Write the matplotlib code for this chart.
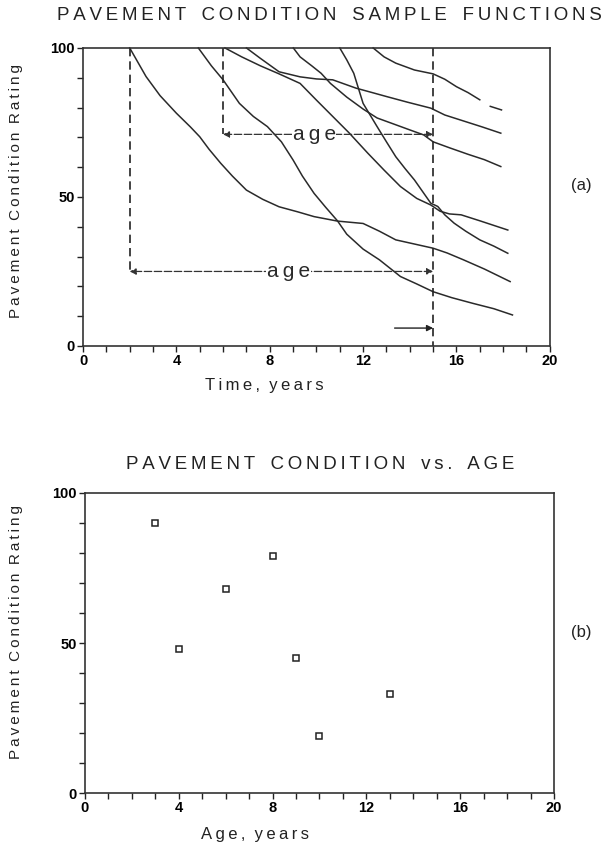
import matplotlib
matplotlib.use("Agg")
import matplotlib.pyplot as plt
import numpy as np
from matplotlib.ticker import MultipleLocator

plt.rcParams['font.family'] = ['Liberation Sans', 'DejaVu Sans']

# --- (a) sample functions (time in years, rating) ---
c2_x = [2.0, 2.7, 3.3, 4.0, 4.6, 5.0, 5.4, 5.9, 6.4, 7.0, 7.7, 8.4, 9.2, 9.9, 10.9, 12.0, 12.7, 13.4, 14.2, 15.0, 15.6, 16.3, 17.2, 18.3]
c2_y = [100, 90.4, 84, 78.1, 73.5, 70.2, 66, 61.3, 57, 52.3, 49.2, 46.7, 45, 43.4, 41.9, 41.1, 38.5, 35.6, 34.2, 32.8, 31.2, 28.9, 25.8, 21.6]

c5_x = [4.94, 5.5, 6.0, 6.7, 7.3, 7.9, 8.5, 9.0, 9.4, 9.9, 10.4, 10.9, 11.3, 12.0, 12.7, 13.6, 14.3, 15.0, 15.8, 16.7, 17.6, 18.4]
c5_y = [100, 94, 89.3, 81.4, 77, 73.6, 68.5, 62.4, 57, 51.2, 46.5, 42, 37.5, 32.5, 28.9, 23.3, 20.8, 18.2, 16.2, 14.3, 12.5, 10.4]

c6_x = [6.08, 6.8, 7.6, 8.4, 9.3, 10.0, 10.7, 11.4, 12.2, 12.9, 13.6, 14.3, 14.9, 15.3, 15.7, 16.2, 17.0, 18.2]
c6_y = [100, 97, 94, 91.3, 88.1, 82.5, 77, 71.5, 64.7, 59, 53.5, 49.5, 47.3, 45.2, 44.3, 44.0, 42.0, 38.9]

c7_x = [7.0, 7.6, 8.4, 9.3, 10.0, 10.7, 11.7, 12.4, 13.0, 13.9, 14.9, 15.5, 16.3, 17.1, 17.9]
c7_y = [100, 96.5, 92.0, 90.3, 89.6, 89.3, 86.5, 85.0, 83.7, 81.8, 79.8, 77.5, 75.5, 73.5, 71.4]

c9_x = [9.01, 9.3, 9.8, 10.2, 10.6, 11.3, 12.0, 12.6, 13.3, 14.0, 14.6, 15.0, 15.7, 16.5, 17.2, 17.9]
c9_y = [100, 97, 94, 91.5, 88.1, 83.5, 79.5, 76.5, 74.5, 72.5, 70.8, 68.5, 66.5, 64.3, 62.5, 60.2]

c11_x = [11.0, 11.3, 11.6, 12.0, 12.6, 13.0, 13.4, 13.8, 14.2, 14.9, 15.2, 15.5, 15.9, 16.4, 17.0, 17.6, 18.2]
c11_y = [100, 96, 91.5, 81.4, 73.6, 68.5, 63.5, 59.5, 55.7, 47.9, 46.8, 44.0, 41.2, 38.5, 35.6, 33.5, 31.1]

c12_x = [12.43, 12.9, 13.4, 14.2, 15.0, 15.5, 16.0, 16.5, 17.0, 17.2, 17.45, 17.93]
c12_y = [100, 97, 94.9, 92.6, 91.3, 89.5, 87.0, 85.0, 82.6, np.nan, 80.4, 79.2]

curves = [(c2_x, c2_y), (c5_x, c5_y), (c6_x, c6_y), (c7_x, c7_y),
          (c9_x, c9_y), (c11_x, c11_y), (c12_x, c12_y)]

start_times = [2, 6, 15]
age_levels = [25, 71]

# --- (b) condition vs age at t = 15 ---
ages = [3, 4, 6, 8, 9, 10, 13]
ratings = [90, 48, 68, 79, 45, 19, 33]


def spaced(s, gap='\u2009'):
    return gap.join(s)


def style_axes(ax):
    ax.set_xlim(0, 20)
    ax.set_ylim(0, 100)
    ax.xaxis.set_major_locator(MultipleLocator(4))
    ax.xaxis.set_minor_locator(MultipleLocator(1))
    ax.yaxis.set_major_locator(MultipleLocator(50))
    ax.yaxis.set_minor_locator(MultipleLocator(10))
    ax.tick_params(which='both', direction='out', length=4, width=1.0,
                   color='#222222', top=False, right=False)
    ax.tick_params(which='major', labelsize=10.5, pad=2)
    for lab in ax.get_xticklabels() + ax.get_yticklabels():
        lab.set_fontweight('bold')
    for sp in ax.spines.values():
        sp.set_linewidth(1.2)
        sp.set_color('#333333')


fig = plt.figure(figsize=(6.15, 8.5), dpi=100)

ax1 = fig.add_axes([0.135, 0.593, 0.759, 0.3506])
for cx, cy in curves:
    ax1.plot(cx, cy, color='#2a2a2a', lw=1.1, clip_on=False)

# dashed start / observation lines
ax1.plot([start_times[0]] * 2, [100, age_levels[0]], color='#222222', lw=1.2, ls=(0, (5, 3)))
ax1.plot([start_times[1]] * 2, [100, age_levels[1]], color='#222222', lw=1.2, ls=(0, (5, 3)))
ax1.plot([start_times[2]] * 2, [100, 0], color='#222222', lw=1.2, ls=(0, (5, 3)))

# age arrows
for t0, lev, tx in [(start_times[0], age_levels[0], 8.8), (start_times[1], age_levels[1], 9.9)]:
    ax1.annotate('', xy=(t0, lev), xytext=(start_times[2], lev),
                 arrowprops=dict(arrowstyle='<|-|>', color='#333333', lw=0.9,
                                 linestyle=(0, (6, 2)), mutation_scale=9,
                                 shrinkA=0, shrinkB=0))
    ax1.text(tx, lev, spaced('age'), ha='center', va='center', fontsize=15,
             color='#2a2a2a', bbox=dict(facecolor='white', edgecolor='none', pad=0.5))
ax1.annotate('', xy=(start_times[2], 6), xytext=(13.35, 6),
             arrowprops=dict(arrowstyle='-|>', color='#222222', lw=1.0,
                             mutation_scale=9, shrinkA=0, shrinkB=0))
style_axes(ax1)

ax2 = fig.add_axes([0.138, 0.067, 0.763, 0.353])
ax2.plot(ages, ratings, ls='none', marker='s', ms=4.2, mfc='white',
         mec='#222222', mew=1.1)
style_axes(ax2)

# titles and labels
fig.text(0.535, 0.982, spaced('PAVEMENT') + '   ' + spaced('CONDITION') + '   ' +
         spaced('SAMPLE') + '   ' + spaced('FUNCTIONS'),
         ha='center', va='center', fontsize=13.5, color='#222222')
fig.text(0.52, 0.454, spaced('PAVEMENT') + '   ' + spaced('CONDITION') + '   ' +
         spaced('vs.') + '   ' + spaced('AGE'),
         ha='center', va='center', fontsize=13.5, color='#222222')

ylab = spaced('Pavement') + '  ' + spaced('Condition') + '  ' + spaced('Rating')
fig.text(0.026, 0.775, ylab, rotation=90, ha='center', va='center',
         fontsize=11, color='#222222')
fig.text(0.026, 0.256, ylab, rotation=90, ha='center', va='center',
         fontsize=11, color='#222222')

fig.text(0.43, 0.546, spaced('Time,') + '  ' + spaced('years'),
         ha='center', va='center', fontsize=12, color='#222222')
fig.text(0.415, 0.018, spaced('Age,') + '  ' + spaced('years'),
         ha='center', va='center', fontsize=12, color='#222222')

fig.text(0.945, 0.782, '(a)', ha='center', va='center', fontsize=12, color='#222222')
fig.text(0.945, 0.256, '(b)', ha='center', va='center', fontsize=12, color='#222222')

fig.savefig('out.png', dpi=100)
